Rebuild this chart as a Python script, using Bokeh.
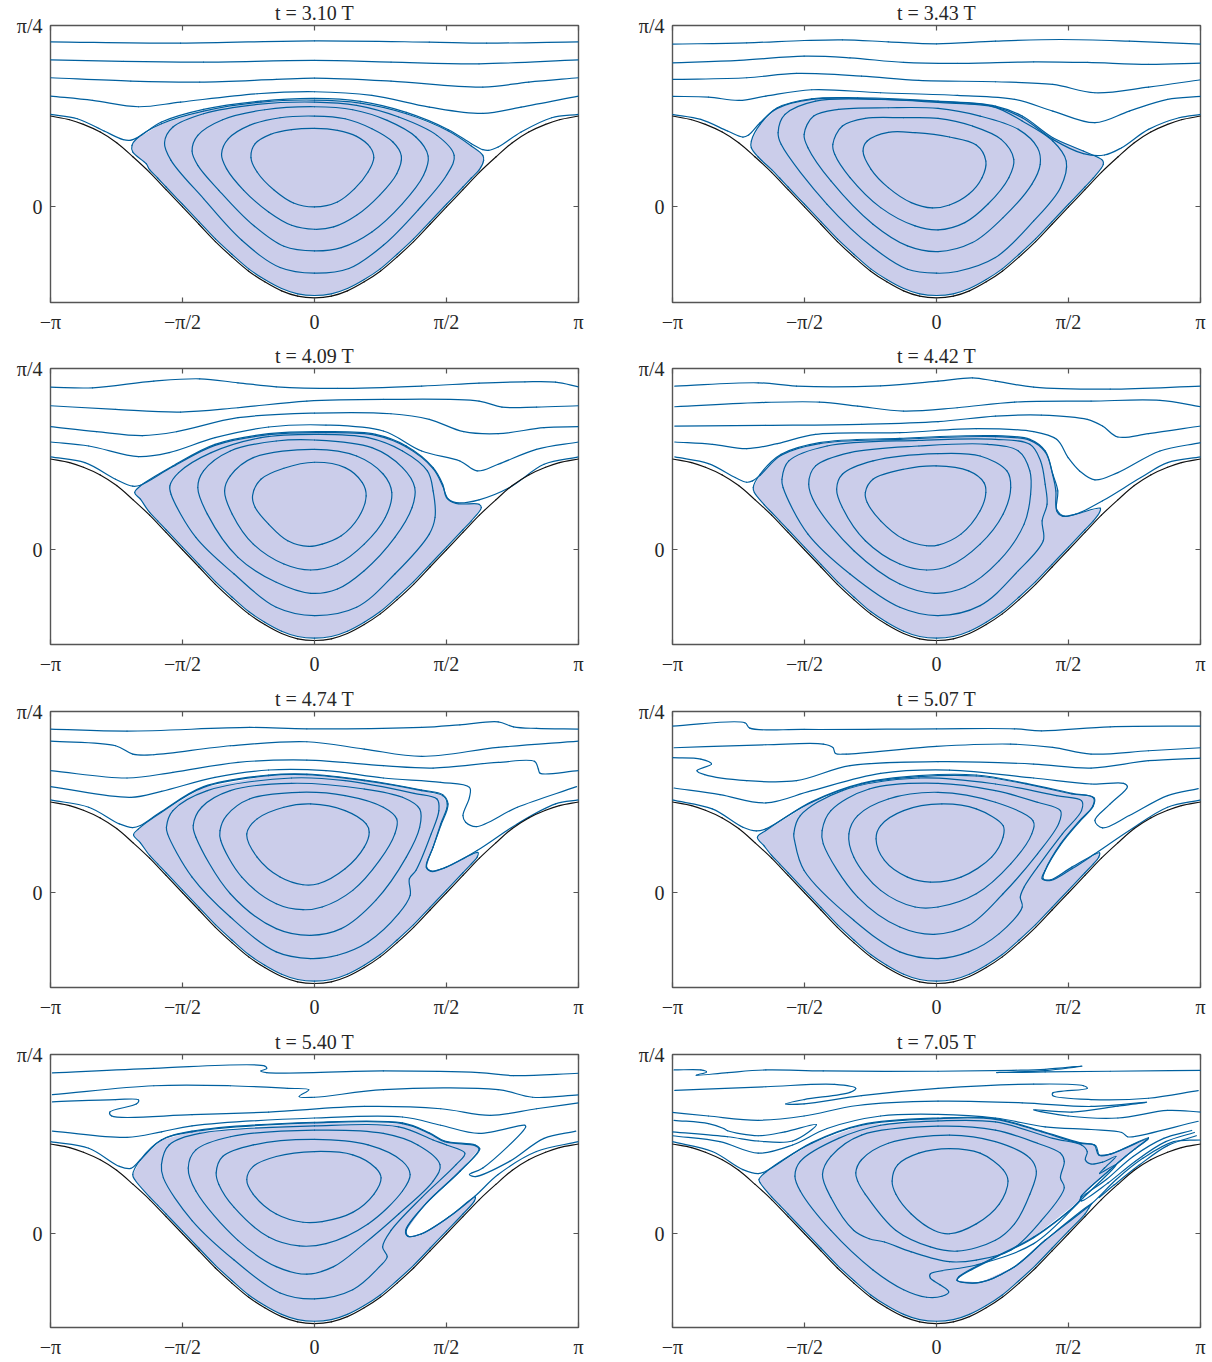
import math
from bokeh.plotting import figure
from bokeh.layouts import column, row
from bokeh.models import FixedTicker, LinearAxis, Range1d
from bokeh.embed import file_html
from bokeh.resources import INLINE

# All readings: x in units of pi/690 from the panel centre, y in units of (pi/4)/545 from y=0.
WALL = [(-690,273),(-640,262),(-604,248),(-560,225),(-517,193),(-474,150),(-431,104),(-388,52),(-345,0),(-302,-52),(-259,-104),(-216,-150),(-172,-193),(-130,-225),(-86,-252),(-44,-268),(0,-273),
        (44,-268),(86,-252),(130,-225),(172,-193),(216,-150),(259,-104),(302,-52),(345,0),(388,52),(431,104),(474,150),(517,193),(560,225),(604,248),(640,262),(690,273)]
# the lower arc of the filled vortex, running just above the wall (shared by all panels)
LOWER = [(431,112),(410,87),(388,60),(345,8),(302,-44),(259,-96),(216,-142),(172,-186),(130,-218),(86,-245),(44,-261),(0,-266),
         (-44,-261),(-86,-245),(-130,-218),(-172,-186),(-216,-142),(-259,-96),(-302,-44),(-345,8),(-388,60),(-410,87),(-431,112)]

TITLES = ["t = 3.10 T","t = 3.43 T","t = 4.09 T","t = 4.42 T","t = 4.74 T","t = 5.07 T","t = 5.40 T","t = 7.05 T"]
X_TICK_LABELS = ["\u2212\u03c0","\u2212\u03c0/2","0","\u03c0/2","\u03c0"]
Y_TICK_LABELS = ["0","\u03c0/4"]

# ---------- t = 3.10 T
A_C1=[(0,236),(60,230),(110,212),(145,180),(155,148),(140,105),(105,55),(60,15),(0,0),(-55,12),(-105,50),(-150,105),(-166,148),(-155,190),(-115,218),(-60,232)]
A_C2=[(0,273),(80,265),(150,235),(205,195),(227,153),(215,100),(170,35),(110,-25),(50,-60),(0,-67),(-60,-55),(-120,-15),(-185,50),(-230,115),(-243,158),(-225,205),(-170,245),(-90,268)]
A_C3=[(0,301),(100,292),(190,260),(265,210),(297,153),(285,95),(230,10),(150,-75),(70,-122),(0,-132),(-80,-118),(-165,-50),(-250,50),(-305,125),(-320,168),(-305,215),(-240,262),(-130,292)]
A_C4=[(0,315),(110,305),(220,270),(320,215),(365,155),(345,95),(270,-10),(180,-115),(90,-185),(0,-199),(-90,-182),(-190,-100),(-290,25),(-375,140),(-392,193),(-370,240),(-290,280),(-150,308)]
A_C5=[(0,321),(120,312),(240,280),(350,228),(410,183),(440,155),(442,140)]+LOWER+[(-440,130),(-475,165),(-477,185),(-465,205),(-400,250),(-290,288),(-140,315)]
A_S1=[(-690,496),(-350,492),(0,499),(300,495),(450,492),(690,496)]
A_S2=[(-690,442),(-500,437),(-290,435),(0,440),(200,435),(430,430),(690,442)]
A_S3=[(-690,388),(-480,378),(-300,375),(-100,383),(0,387),(200,378),(440,360),(560,375),(690,388)]
A_S4=[(-690,333),(-580,320),(-460,301),(-350,315),(-150,340),(0,346),(150,335),(300,300),(440,281),(540,300),(690,333)]
A_S5=[(-690,278),(-620,265),(-550,228),(-500,202),(-482,200),(-460,210),(-400,255),(-290,293),(-140,318),(0,326),(120,317),(240,284),(350,232),(410,190),(440,172),(455,170),(480,180),(540,225),(620,268),(690,278)]

# ---------- t = 3.43 T
B_C1=[(-192,168),(-181,198),(-126,224),(-56,223),(34,210),(104,186),(129,138),(119,88),(84,38),(34,6),(-11,-3),(-66,13),(-126,58),(-171,113)]
B_C2=[(-271,188),(-246,243),(-186,266),(-86,268),(4,266),(94,243),(169,203),(202,143),(189,88),(134,8),(74,-47),(4,-69),(-56,-57),(-146,-2),(-226,88),(-266,158)]
B_C3=[(-346,218),(-321,273),(-256,293),(-126,298),(4,296),(114,273),(214,233),(264,178),(271,128),(249,68),(174,-32),(94,-107),(4,-134),(-76,-117),(-166,-52),(-276,78),(-336,178)]
B_C4=[(-414,223),(-396,278),(-316,318),(-146,323),(4,316),(144,303),(224,258),(304,198),(339,138),(324,58),(254,-42),(154,-152),(54,-194),(0,-199),(-76,-187),(-166,-122),(-286,8),(-406,188)]
B_C5=[(-484,198),(-461,248),(-416,298),(-326,325),(-206,328),(4,318),(154,303),(224,273),(304,208),(384,168),(434,140),(436,128)]+LOWER[1:]+[(-466,150),(-484,178)]
B_S1=[(-691,489),(-496,493),(-346,500),(-246,502),(-126,496),(0,490),(154,498),(324,503),(504,498),(691,489)]
B_S2=[(-691,433),(-516,440),(-346,453),(-226,448),(-86,434),(54,431),(254,436),(394,434),(554,428),(691,432)]
B_S3=[(-691,383),(-496,388),(-366,401),(-196,393),(-46,380),(154,376),(304,368),(414,343),(554,360),(691,382)]
B_S4=[(-691,332),(-596,330),(-516,320),(-446,333),(-326,352),(-146,343),(54,335),(204,323),(304,288),(414,253),(504,288),(604,323),(691,332)]
B_S5=[(-691,278),(-616,263),(-546,228),(-506,210),(-491,216),(-461,253),(-416,296),(-326,323),(-206,326),(4,314),(154,300),(224,268),(304,203),(384,160),(439,156),(484,178),(554,233),(634,268),(691,278)]

# ---------- t = 4.09 T
C_C1=[(-162,162),(-140,212),(-80,245),(0,263),(80,247),(125,202),(135,162),(115,97),(70,42),(20,17),(-15,10),(-70,27),(-120,77),(-155,127)]
C_C2=[(-235,177),(-220,222),(-160,277),(0,302),(110,282),(180,227),(202,172),(185,97),(130,17),(60,-43),(-10,-61),(-80,-43),(-160,17),(-215,107)]
C_C3=[(-305,187),(-290,237),(-220,297),(-100,327),(0,330),(150,307),(230,247),(262,187),(255,127),(210,37),(130,-63),(60,-118),(-10,-131),(-100,-98),(-200,-23),(-280,107)]
C_C4=[(-378,192),(-355,232),(-270,292),(-140,337),(10,347),(140,337),(230,297),(295,237),(310,177),(315,97),(300,47),(210,-73),(110,-173),(0,-198),(-100,-173),(-210,-73),(-310,37),(-375,167)]
C_C5=[(-470,172),(-455,192),(-370,252),(-260,317),(-120,349),(30,355),(160,347),(240,312),(310,247),(335,197),(345,157),(370,139),(430,137),(436,127)]+LOWER[1:]+[(-455,152)]
C_S1=[(-690,489),(-580,487),(-420,507),(-300,514),(-200,502),(-100,490),(60,485),(280,492),(430,501),(550,505),(630,504),(690,490)]
C_S2=[(-690,433),(-520,422),(-350,414),(-200,427),(-20,447),(180,452),(430,447),(490,429),(580,429),(690,433)]
C_S3=[(-690,370),(-570,355),(-450,343),(-360,355),(-200,397),(0,411),(200,409),(300,392),(390,355),(480,349),(600,367),(690,370)]
C_S4=[(-690,324),(-590,312),(-460,280),(-380,292),(-260,337),(-120,369),(30,375),(180,357),(280,297),(380,267),(425,237),(480,257),(580,302),(690,324)]
C_S5=[(-690,279),(-600,262),(-520,212),(-475,191),(-455,194),(-370,250),(-260,314),(-120,346),(30,352),(160,344),(240,309),(310,244),(335,192),(350,152),(375,141),(430,150),(510,187),(600,257),(690,279)]

# ---------- t = 4.42 T
D_C1=[(-186,172),(-166,212),(-86,242),(-1,252),(84,237),(124,202),(129,172),(114,117),(64,47),(4,14),(-26,12),(-86,32),(-146,87),(-181,142)]
D_C2=[(-261,182),(-246,227),(-166,267),(4,289),(114,282),(184,237),(194,187),(174,107),(114,17),(34,-48),(-26,-61),(-96,-43),(-186,27),(-246,127)]
D_C3=[(-334,197),(-316,252),(-226,292),(-46,312),(134,317),(214,297),(244,237),(246,167),(229,77),(164,-33),(74,-113),(-6,-131),(-96,-103),(-216,-3),(-316,137)]
D_C4=[(-404,212),(-386,267),(-286,312),(-46,329),(154,332),(244,317),(272,267),(284,197),(289,137),(276,87),(279,27),(214,-63),(114,-168),(4,-198),(-96,-173),(-226,-73),(-336,47),(-401,187)]
D_C5=[(-479,187),(-461,227),(-406,287),(-306,322),(-96,335),(154,343),(244,332),(284,297),(304,227),(317,177),(314,117),(329,101),(364,107),(428,125),(426,112)]+LOWER[1:]+[(-450,135),(-476,172)]
D_S1=[(-684,492),(-466,502),(-366,492),(-146,493),(4,507),(94,517),(154,507),(254,489),(454,483),(691,492)]
D_S2=[(-684,430),(-446,443),(-306,444),(-206,432),(-86,417),(54,427),(204,444),(404,447),(584,449),(691,430)]
D_S3=[(-684,372),(-446,374),(-196,377),(4,385),(154,402),(274,405),(394,392),(434,372),(474,339),(554,349),(691,372)]
D_S4=[(-684,324),(-586,317),(-496,304),(-416,319),(-316,347),(-96,352),(104,364),(254,355),(314,332),(344,277),(374,237),(414,210),(474,232),(584,297),(691,322)]
D_S5=[(-684,279),(-596,259),(-526,217),(-496,203),(-481,207),(-461,224),(-406,284),(-306,319),(-96,332),(154,340),(244,329),(284,294),(304,224),(312,177),(314,122),(334,101),(369,109),(434,147),(534,217),(604,262),(691,279)]

# ---------- t = 4.74 T
E_C1=[(-177,177),(-150,222),(-80,257),(-10,267),(80,247),(135,207),(143,182),(130,137),(80,72),(10,27),(-30,24),(-90,47),(-150,107)]
E_C2=[(-247,187),(-230,232),(-170,282),(-40,302),(80,292),(180,257),(215,222),(210,177),(170,97),(100,7),(20,-43),(-30,-51),(-100,-33),(-190,47),(-245,157)]
E_C3=[(-317,202),(-295,257),(-220,307),(-60,329),(130,312),(230,287),(275,252),(275,197),(240,107),(160,-23),(70,-108),(-10,-128),(-100,-108),(-220,-3),(-310,167)]
E_C4=[(-387,197),(-370,247),(-280,307),(-60,345),(80,337),(260,299),(320,282),(325,247),(305,177),(265,67),(248,42),(250,-8),(220,-63),(140,-148),(60,-188),(-10,-198),(-100,-178),(-220,-73),(-320,47),(-384,177)]
E_C5=[(-473,174),(-460,192),(-400,242),(-290,317),(-120,352),(-20,355),(130,337),(280,307),(335,292),(347,267),(330,207),(310,137),(293,77),(305,65),(340,75),(427,121),(425,107)]+LOWER[1:]+[(-455,150)]
E_S1=[(-690,492),(-490,486),(-170,497),(-20,493),(280,497),(380,505),(480,514),(520,499),(580,494),(690,492)]
E_S2=[(-690,456),(-520,442),(-475,417),(-420,415),(-220,442),(-20,454),(130,432),(280,410),(480,437),(690,456)]
E_S3=[(-690,367),(-490,345),(-370,362),(-200,392),(-20,399),(180,382),(310,375),(480,392),(575,395),(585,372),(590,359),(690,367)]
E_S4=[(-690,319),(-480,287),(-400,305),(-260,347),(-120,369),(30,367),(180,345),(330,332),(405,317),(405,287),(388,232),(395,212),(423,199),(530,257),(685,319)]
E_S5=[(-690,279),(-590,257),(-510,207),(-475,196),(-455,202),(-400,244),(-290,319),(-120,354),(-20,357),(130,339),(280,309),(335,295),(349,267),(330,202),(310,137),(292,77),(305,64),(345,77),(425,127),(530,207),(630,267),(690,279)]

# ---------- t = 5.07 T
F_C1=[(-158,162),(-146,202),(-86,247),(14,267),(104,252),(174,202),(174,167),(144,107),(64,47),(-16,32),(-76,47),(-136,97)]
F_C2=[(-229,177),(-206,232),(-126,282),(4,302),(154,272),(252,217),(249,177),(194,87),(104,-3),(4,-43),(-56,-43),(-146,7),(-216,107)]
F_C3=[(-299,187),(-276,247),(-176,312),(4,329),(154,307),(264,272),(324,247),(319,207),(264,117),(174,-3),(84,-98),(-6,-125),(-96,-103),(-206,-13),(-296,147)]
F_C4=[(-373,177),(-356,232),(-246,307),(-46,345),(154,327),(314,292),(379,277),(379,247),(329,177),(264,77),(229,17),(219,-13),(224,-43),(164,-123),(84,-178),(4,-198),(-96,-178),(-216,-83),(-346,67),(-371,157)]
F_C5=[(-468,167),(-446,187),(-326,272),(-196,327),(-46,349),(104,351),(234,327),(354,297),(409,287),(409,262),(374,217),(324,147),(284,67),(279,42),(299,39),(354,77),(426,120),(424,107)]+LOWER[1:]+[(-450,140)]
F_S1=[(-691,501),(-501,511),(-488,495),(-346,491),(0,493),(204,493),(274,487),(454,499),(691,501)]
F_S2=[(-686,436),(-446,445),(-296,447),(-271,437),(-264,419),(-236,417),(0,440),(194,447),(304,437),(404,417),(554,427),(691,436)]
F_S3=[(-691,406),(-616,402),(-588,387),(-626,367),(-606,355),(-496,337),(-366,337),(-226,382),(4,394),(254,387),(404,375),(554,397),(691,405)]
F_S4=[(-686,315),(-566,295),(-446,270),(-326,307),(-146,359),(34,369),(254,345),(404,327),(489,329),(499,319),(454,267),(414,217),(434,195),(504,232),(604,292),(684,313)]
F_S5=[(-691,279),(-586,252),(-506,197),(-471,186),(-446,192),(-326,274),(-196,329),(-46,352),(104,354),(234,329),(354,299),(412,285),(409,259),(374,214),(324,144),(284,67),(276,42),(299,37),(354,72),(414,117),(504,187),(604,257),(691,279)]

# ---------- t = 5.40 T
G_C1=[(-177,165),(-160,205),(-100,235),(0,250),(100,240),(160,200),(174,170),(155,120),(100,65),(20,37),(-30,35),(-100,60),(-160,120)]
G_C2=[(-257,185),(-240,235),(-160,270),(0,287),(140,270),(230,220),(250,180),(230,130),(140,30),(30,-30),(-40,-37),(-120,-10),(-210,80),(-250,150)]
G_C3=[(-330,200),(-310,255),(-220,295),(0,315),(180,305),(270,270),(328,210),(310,160),(220,60),(130,-30),(50,-100),(-20,-123),(-100,-100),(-200,-20),(-310,130)]
G_C4=[(-400,210),(-380,270),(-300,305),(0,328),(220,325),(310,285),(345,270),(393,245),(370,210),(280,110),(200,10),(178,-40),(190,-70),(170,-100),(100,-170),(0,-198),(-90,-180),(-210,-80),(-320,40),(-395,170)]
G_C5=[(-475,180),(-455,225),(-400,285),(-320,310),(0,337),(230,335),(300,305),(340,280),(420,268),(430,258),(380,190),(290,90),(240,10),(245,-8),(280,0),(350,50),(420,112),(418,100)]+LOWER[2:]+[(-470,165)]
G_S1=[(-685,489),(-420,503),(-130,510),(-125,502),(-140,495),(-125,490),(180,495),(430,490),(520,481),(690,488)]
G_S2=[(-685,423),(-420,450),(-220,450),(-70,442),(-15,438),(-40,417),(0,415),(180,438),(480,438),(570,415),(690,422)]
G_S3=[(-685,401),(-520,408),(-460,407),(-465,395),(-535,370),(-530,358),(-320,362),(-120,370),(130,387),(330,380),(460,360),(580,380),(690,398)]
G_S4=[(-685,312),(-490,293),(-400,310),(-320,328),(0,352),(230,355),(330,330),(430,305),(550,330),(552,325),(440,200),(405,180),(420,174),(510,220),(600,290),(683,312)]
G_S5=[(-690,280),(-590,260),(-510,205),(-480,199),(-455,225),(-400,285),(-320,312),(0,339),(230,337),(300,307),(340,282),(420,270),(432,258),(380,190),(290,90),(238,10),(245,-8),(280,0),(350,50),(420,115),(480,180),(580,250),(690,280)]

# ---------- t = 7.05 T
H_C1=[(-116,160),(-101,210),(-46,245),(34,259),(114,245),(174,195),(187,160),(164,90),(104,30),(34,0),(-6,10),(-66,60),(-106,120)]
H_C2=[(-211,185),(-196,225),(-126,275),(34,300),(154,280),(244,230),(261,190),(244,120),(204,30),(154,-20),(54,-53),(-16,-40),(-106,10),(-186,120),(-206,160)]
H_C3=[(-298,180),(-276,235),(-196,300),(4,327),(154,315),(264,275),(324,245),(334,220),(324,170),(334,140),(274,40),(194,-50),(104,-80),(34,-85),(-66,-55),(-136,-25),(-176,-15),(-216,10),(-276,110)]
H_C4=[(-370,175),(-356,220),(-256,290),(-146,330),(4,343),(154,340),(304,290),(379,270),(394,250),(389,225),(404,212),(434,218),(469,235),(439,200),(426,183),(469,210),(384,110),(254,-30),(104,-95),(-16,-122),(-16,-135),(9,-155),(32,-177),(14,-190),(-26,-193),(-86,-170),(-166,-110),(-276,10),(-356,130)]
H_C5=[(-464,165),(-446,188),(-326,275),(-196,330),(4,350),(154,348),(274,310),(374,275),(412,270),(424,240),(454,242),(554,290),(519,258),(494,235),(454,195),(379,115),(374,100),(254,-10),(154,-70),(59,-130),(54,-142),(114,-148),(204,-100),(284,-20),(404,90),(398,78)]+LOWER[2:]+[(-461,155)]
H_S1=[(-686,498),(-616,498),(-601,492),(-628,482),(-546,490),(-446,498),(-296,495),(4,494),(200,497),(284,500),(380,510),(284,496),(157,490),(284,492),(454,494),(691,497)]
H_S2=[(-684,436),(-446,447),(-266,454),(-211,442),(-226,430),(-346,408),(-394,395),(-346,395),(-196,420),(4,442),(254,455),(384,450),(394,442),(304,428),(304,420),(404,408),(554,412),(684,435)]
H_S3=[(-691,369),(-596,358),(-466,345),(-346,358),(-206,390),(4,403),(224,398),(404,387),(549,400),(474,388),(354,370),(254,377),(344,358),(474,352),(604,375),(691,370)]
H_S4=[(-686,345),(-596,335),(-556,320),(-546,313),(-466,298),(-396,310),(-314,332),(-376,282),(-466,282),(-546,295),(-691,310)]
H_S5=[(-691,298),(-566,280),(-466,245),(-376,270),(-286,320),(-146,358),(4,363),(154,352),(284,325),(404,317),(484,308),(499,295),(514,295),(684,342)]
H_S6=[(-691,280),(-586,250),(-506,195),(-466,183),(-446,190),(-326,277),(-196,332),(4,352),(154,350),(274,312),(374,277),(416,268),(426,238),(454,242),(554,292),(519,258),(494,235),(454,195),(379,115),(374,100),(254,-12),(154,-72),(59,-132),(54,-142),(114,-148),(204,-100),(284,-20),(406,92),(470,165),(540,230),(620,280),(691,285)]
H_F1=[(667,314),(594,290),(514,235),(444,165),(376,105),(379,100),(449,155),(519,220),(599,280),(674,308)]
H_F2=[(679,298),(604,268),(529,208),(464,148),(425,110)]

PANELS = [
    ([A_C1,A_C2,A_C3,A_C4], A_C5, [A_S1,A_S2,A_S3,A_S4,A_S5]),
    ([B_C1,B_C2,B_C3,B_C4], B_C5, [B_S1,B_S2,B_S3,B_S4,B_S5]),
    ([C_C1,C_C2,C_C3,C_C4], C_C5, [C_S1,C_S2,C_S3,C_S4,C_S5]),
    ([D_C1,D_C2,D_C3,D_C4], D_C5, [D_S1,D_S2,D_S3,D_S4,D_S5]),
    ([E_C1,E_C2,E_C3,E_C4], E_C5, [E_S1,E_S2,E_S3,E_S4,E_S5]),
    ([F_C1,F_C2,F_C3,F_C4], F_C5, [F_S1,F_S2,F_S3,F_S4,F_S5]),
    ([G_C1,G_C2,G_C3,G_C4], G_C5, [G_S1,G_S2,G_S3,G_S4,G_S5]),
    ([H_C1,H_C2,H_C3,H_C4], H_C5, [H_S1,H_S2,H_S3,H_S4,H_S5,H_S6,H_F1,H_F2]),
]

XU = math.pi / 690.0
YU = (math.pi / 4) / 545.0
BLUE = "#00609f"
FILL = "#cbcdea"
GREY = "#555555"
FONT = "Liberation Serif"

def beziers(pts, closed=False):
    """Smooth stroke through the read points, as one cubic Bezier per pair of points."""
    P = list(pts)
    n = len(P)
    count = n if closed else n - 1
    def d(a, b):
        return max(math.hypot(b[0]-a[0], b[1]-a[1]) ** 0.5, 1e-6)
    def tangent(i):
        if not closed and (i == 0 or i == n - 1):
            a, b = (P[0], P[1]) if i == 0 else (P[n-2], P[n-1])
            t = d(a, b)
            return ((b[0]-a[0])/t, (b[1]-a[1])/t)
        a, b, c = P[(i-1) % n], P[i % n], P[(i+1) % n]
        d0, d1 = d(a, b), d(b, c)
        return tuple((b[k]-a[k])/d0 - (c[k]-a[k])/(d0+d1) + (c[k]-b[k])/d1 for k in (0, 1))
    out = [[] for _ in range(8)]
    for i in range(count):
        a, b = P[i % n], P[(i+1) % n]
        t = d(a, b)
        ma, mb = tangent(i % n), tangent((i+1) % n)
        vals = (a[0], a[1], b[0], b[1], a[0]+ma[0]*t/3, a[1]+ma[1]*t/3, b[0]-mb[0]*t/3, b[1]-mb[1]*t/3)
        for k, v in enumerate(vals):
            out[k].append(v * (XU if k % 2 == 0 else YU))
    return out

def stroke(p, pts, closed=False, color=BLUE, width=1.2):
    q = beziers(pts, closed)
    p.bezier(x0=q[0], y0=q[1], x1=q[2], y1=q[3], cx0=q[4], cy0=q[5], cx1=q[6], cy1=q[7],
             line_color=color, line_width=width, line_cap="round")

def panel(i):
    right = i % 2 == 1
    rw = i // 2
    top = 28
    fh = [277, 276, 276, 276][rw]
    bottom = [38, 39, 39, 30][rw]
    ymin = (-287 if rw == 0 else -285) * YU
    b_left = 50
    b_right = 6 if right else 44
    p = figure(width=b_left+528+b_right, height=top+fh+bottom, output_backend="svg", toolbar_location=None,
               x_range=Range1d(-math.pi, math.pi), y_range=Range1d(ymin, math.pi/4),
               min_border_left=b_left, min_border_right=b_right, min_border_top=top, min_border_bottom=bottom,
               background_fill_color="white", border_fill_color="white",
               title=TITLES[i])
    p.title.align = "center"
    p.title.text_font = FONT
    p.title.text_font_size = "20px"
    p.title.text_font_style = "normal"
    p.title.text_color = "#262626"
    p.title.standoff = 3
    p.grid.visible = False
    p.outline_line_color = GREY
    p.outline_line_width = 1.4
    xt = [-math.pi, -math.pi/2, 0, math.pi/2, math.pi]
    yt = [0, math.pi/4]
    for ax, ticks, labels in ((p.xaxis[0], xt, X_TICK_LABELS), (p.yaxis[0], yt, Y_TICK_LABELS)):
        ax.ticker = FixedTicker(ticks=ticks)
        ax.major_label_overrides = dict(zip(ticks, labels))
        ax.major_tick_in = 5; ax.major_tick_out = 0; ax.minor_tick_line_color = None
        ax.major_tick_line_color = GREY; ax.major_tick_line_width = 1.2
        ax.axis_line_color = None
        ax.major_label_text_font = FONT
        ax.major_label_text_font_size = "20px"
        ax.major_label_text_color = "#262626"
    p.xaxis[0].major_label_standoff = 8
    p.yaxis[0].major_label_standoff = 8
    p.yaxis[0].major_label_orientation = "horizontal"
    for ticks, side in ((xt, "above"), (yt, "right")):
        a = LinearAxis(ticker=FixedTicker(ticks=ticks), major_tick_in=5, major_tick_out=0,
                       minor_tick_line_color=None, major_tick_line_color=GREY, major_tick_line_width=1.2,
                       axis_line_color=None, major_label_text_font_size="0px", major_label_standoff=0,
                       major_label_text_color=None)
        p.add_layout(a, side)

    inner, outer, streams = PANELS[i]
    p.patch([v[0]*XU for v in outer], [v[1]*YU for v in outer], fill_color=FILL, line_color=None)
    for c in inner + [outer]:
        stroke(p, c, closed=True)
    for s in streams:
        stroke(p, s)
    stroke(p, WALL, color="#111111", width=1.15)
    return p

figs = [panel(i) for i in range(8)]
layout = column(*[row(figs[k], figs[k+1], spacing=0) for k in range(0, 8, 2)], spacing=0, margin=(-3, 0, 0, 0))
open("out.html", "w").write(file_html(layout, INLINE))
